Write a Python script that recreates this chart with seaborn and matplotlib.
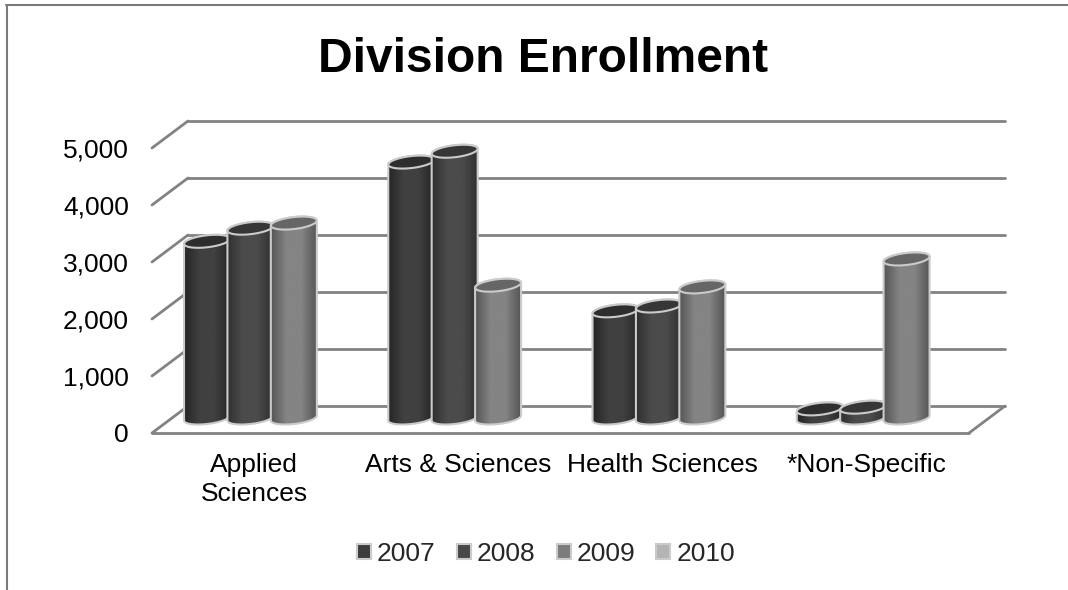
import numpy as np
import pandas as pd
import seaborn as sns
import matplotlib.pyplot as plt
from matplotlib.lines import Line2D
from matplotlib.patches import Patch, PathPatch
from matplotlib.path import Path
from matplotlib.colors import LinearSegmentedColormap
from matplotlib.transforms import Affine2D


DIVISIONS = ["Applied\nSciences", "Arts & Sciences", "Health Sciences", "*Non-Specific"]
YEARS = ["2007", "2008", "2009", "2010"]
VALUES_2007 = [3100, 4490, 1880, 160]
VALUES_2008 = [3330, 4680, 1965, 190]
VALUES_2009 = [3420, 2330, 2300, 2790]
VALUES_2010 = [np.nan, np.nan, np.nan, np.nan]
Y_TICKS = [0, 1000, 2000, 3000, 4000, 5000]

# edge, centre shade of each cylinder, then its cap
SHADES = {
    "2007": ("#262626", "#404040", "#2e2e2e"),
    "2008": ("#303030", "#4b4b4b", "#363636"),
    "2009": ("#565656", "#848484", "#666666"),
}
LEGEND_COLORS = ["#3d3d3d", "#484848", "#7c7c7c", "#b4b4b4"]
GRID = "#828282"
RIM = "#cbcbcb"

W, H = 1068, 590
PX_X = 1 / 204.25  # data per pixel, category axis
PX_Y = 1000 / 57  # data per pixel, value axis


def ellipse_points(cx, cy, start, stop, rx, ry, tilt):
    t = np.linspace(start, stop, 40)
    xs = cx + rx * np.cos(t)
    ys = cy + ry * np.sin(t) + tilt * rx * np.cos(t)
    return np.column_stack([xs, ys])


def draw_cylinder(ax, bar, shades, z):
    """
    Turn one seaborn bar into a shaded cylinder with a cap.
    """
    rx = 23 * PX_X
    ry = 6 * PX_Y
    tilt = 0.11 * PX_Y / PX_X
    cx = bar.get_x() + bar.get_width() / 2
    top = bar.get_height()

    bar.set_x(cx - rx)
    bar.set_width(2 * rx)
    bar.set_facecolor(shades[1])
    bar.set_edgecolor("none")
    bar.set_zorder(z)

    upper = ellipse_points(cx, top, np.pi, 0, rx, ry, tilt)
    lower = ellipse_points(cx, 0, 0, -np.pi, rx, ry, tilt)
    outline = Path(np.vstack([upper, lower, upper[:1]]), closed=True)

    cmap = LinearSegmentedColormap.from_list("cyl", [shades[0], shades[1], shades[1], shades[0]])
    img = ax.imshow(
        np.linspace(0, 1, 64)[None, :],
        cmap=cmap,
        extent=(cx - rx, cx + rx, -2 * ry, top + 2 * ry),
        aspect="auto",
        zorder=z + 0.1,
    )
    # the base of the cylinder hangs below the axes box
    img.set_clip_box(ax.figure.bbox)
    img.set_clip_path(PathPatch(outline, transform=ax.transData))

    ax.add_patch(PathPatch(outline, fc="none", ec=RIM, lw=1.5, zorder=z + 0.3, clip_on=False))
    cap = ellipse_points(cx, top, 0, 2 * np.pi, rx, ry, tilt)
    ax.add_patch(
        PathPatch(Path(cap, closed=True), fc=shades[2], ec=RIM, lw=1.5, zorder=z + 0.5, clip_on=False)
    )


def main() -> None:
    sns.set_theme(style="white")
    plt.rcParams["font.family"] = ["Liberation Sans", "DejaVu Sans"]

    df = pd.DataFrame(
        {
            "division": DIVISIONS * 4,
            "year": np.repeat(YEARS, 4),
            "enrollment": VALUES_2007 + VALUES_2008 + VALUES_2009 + VALUES_2010,
        }
    )

    fig = plt.figure(figsize=(W / 100, H / 100), dpi=100, facecolor="white")
    left, right, bottom, top = 170, 987, H - 418, H - 133
    ax = fig.add_axes([left / W, bottom / H, (right - left) / W, (top - bottom) / H])
    ax.patch.set_visible(False)

    sns.barplot(
        data=df,
        x="division",
        y="enrollment",
        hue="year",
        order=DIVISIONS,
        hue_order=YEARS,
        width=0.85,
        legend=False,
        ax=ax,
    )

    for i, container in enumerate(ax.containers):
        year = YEARS[i]
        for j, bar in enumerate(container):
            if np.isfinite(bar.get_height()):
                draw_cylinder(ax, bar, SHADES[year], 3 + i + j * 0.01)

    ax.set_xlim(-0.5, 3.5)
    ax.set_ylim(0, 5000)
    ax.set_xlabel("")
    ax.set_ylabel("")
    sns.despine(ax=ax, left=True, bottom=True)

    # wall and floor lines sit in front of and behind the plane of the bars
    front = ax.transData + Affine2D().translate(-18, -15)
    back = ax.transData + Affine2D().translate(18, 12)
    x0, x1 = ax.get_xlim()
    line_kw = dict(color=GRID, lw=2, clip_on=False, zorder=1)
    for v in Y_TICKS:
        ax.add_line(Line2D([x0, x1], [v, v], transform=back, **line_kw))
        fx, fy = front.transform((x0, v))
        bx, by = back.transform((x0, v))
        ax.add_line(Line2D([fx, bx], [fy, by], transform=None, **line_kw))
    ax.add_line(Line2D([x0, x1], [0, 0], transform=front, **line_kw))
    fx, fy = front.transform((x1, 0))
    bx, by = back.transform((x1, 0))
    ax.add_line(Line2D([fx, bx], [fy, by], transform=None, **line_kw))

    ax.set_yticks(Y_TICKS)
    ax.set_yticklabels([f"{v:,}" for v in Y_TICKS])
    ax.tick_params(axis="y", length=0, pad=29.5, labelsize=19, labelcolor="black")
    ax.tick_params(axis="x", length=0, pad=25, labelsize=19, labelcolor="black")
    for label in ax.get_yticklabels():
        label.set_transform(label.get_transform() + Affine2D().translate(0, -15))
    for label in ax.get_xticklabels():
        label.set_transform(label.get_transform() + Affine2D().translate(-18, 0))
        label.set_linespacing(1.3)

    handles = [Patch(fc=c, ec=RIM, lw=1.5) for c in LEGEND_COLORS]
    fig.legend(
        handles,
        YEARS,
        loc="center",
        bbox_to_anchor=(546 / W, 1 - 554 / H),
        ncol=4,
        frameon=False,
        fontsize=19,
        handlelength=0.53,
        handleheight=0.53,
        handletextpad=0.23,
        columnspacing=0.8,
    )

    fig.text(543 / W, 1 - 60 / H, "Division Enrollment", ha="center", va="center",
             fontsize=34.5, fontweight="bold", color="black")

    # chart frame, only the top and left edges are in the crop
    frame_kw = dict(color="#7a7a7a", lw=1.5)
    fig.add_artist(Line2D([7 / W, 7 / W], [0, 1 - 5 / H], **frame_kw))
    fig.add_artist(Line2D([6 / W, 1], [1 - 5 / H, 1 - 5 / H], **frame_kw))

    fig.savefig("out.png", dpi=100)
    plt.close(fig)


if __name__ == "__main__":
    main()
